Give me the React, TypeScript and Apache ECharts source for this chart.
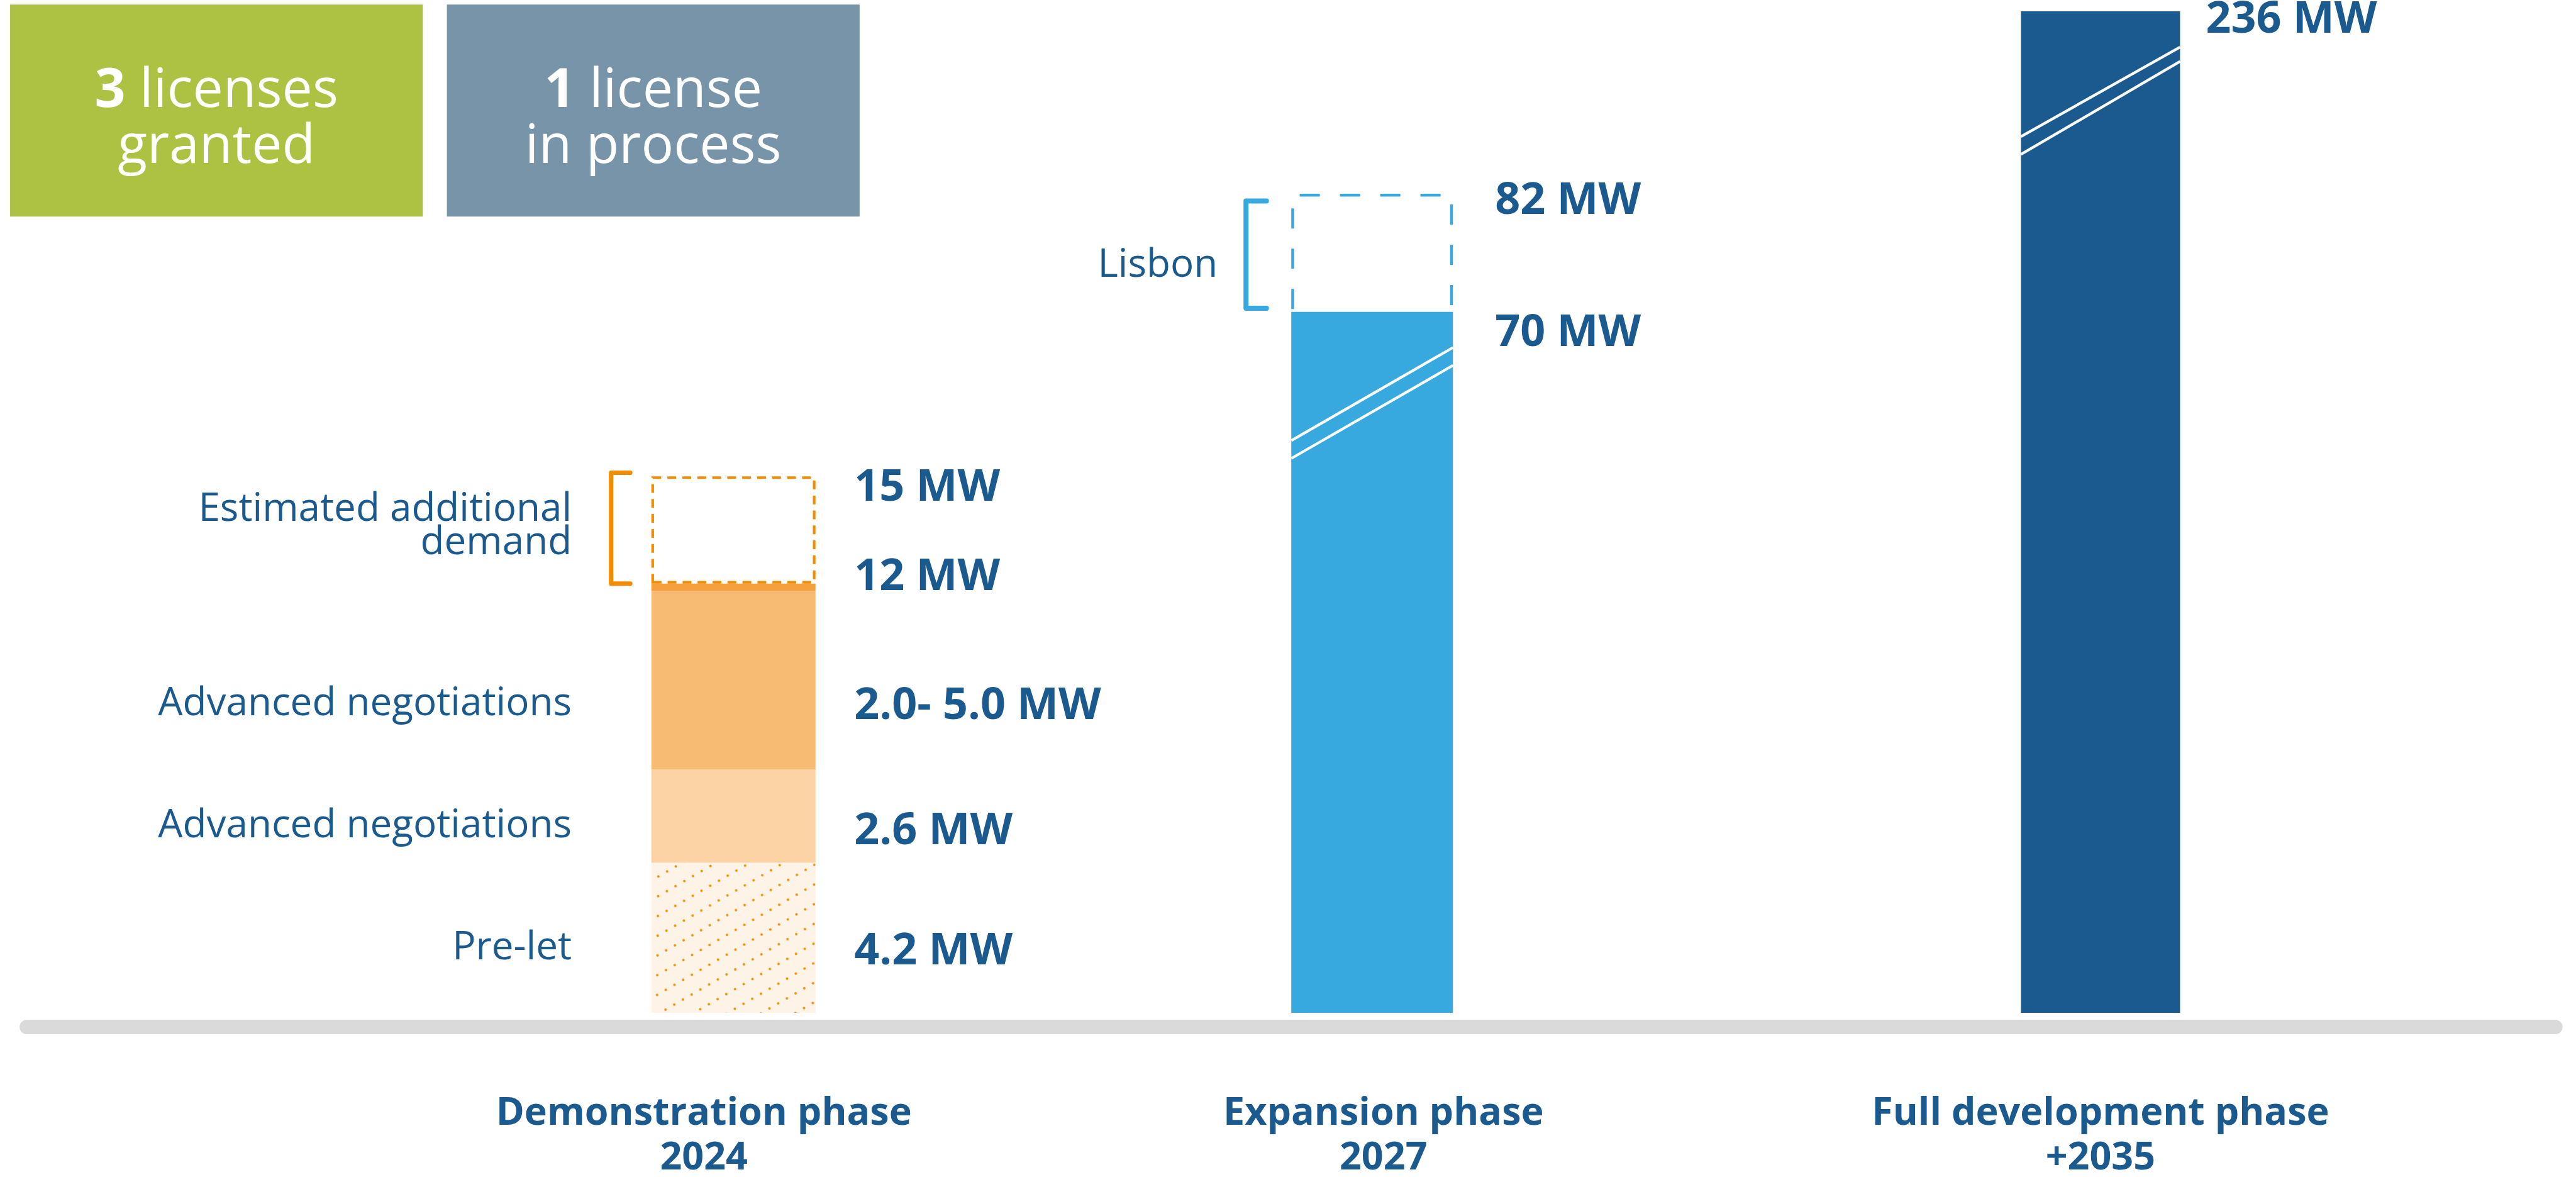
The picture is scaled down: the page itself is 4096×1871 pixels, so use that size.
import React, { useEffect, useRef } from 'react';
import * as echarts from 'echarts';

// ---------- data ----------
const phaseLabels = ['Demonstration phase\n2024', 'Expansion phase\n2027', 'Full development phase\n+2035'];

// Demonstration phase 2024 (stacked, MW)
const demoNames = ['Pre-let', 'Advanced negotiations', 'Advanced negotiations', '', 'Estimated additional\ndemand'];
const demoValues = [4.2, 2.6, 5.0, 0.2, 3.0];
const demoValueLabels = ['4.2 MW', '2.6 MW', '2.0- 5.0 MW', '12 MW', '15 MW'];

// Expansion phase 2027 (drawn heights on the broken axis)
const expansionNames = ['', 'Lisbon'];
const expansionValues = [19.6, 3.3];
const expansionValueLabels = ['70 MW', '82 MW'];

// Full development phase +2035 (drawn height on the broken axis)
const fullNames = [''];
const fullValues = [28.0];
const fullValueLabels = ['236 MW'];

// bracket spans [from, to] and axis-break marks [left value, right value]
const bracketSpans: (number[] | null)[] = [[12.0, 15.1], [19.7, 22.7], null];
const breakMarks: (number[][] | null)[] = [null, [[16.0, 18.6], [15.5, 18.1]], [[24.5, 27.0], [24.0, 26.6]]];

const boxNumbers = ['3', '1'];
const boxTexts = [' licenses\ngranted', ' license\nin process'];

// ---------- styles ----------
const W = 4096;
const H = 1871;
const S = 4096 / 4594;
const FONT = '"Open Sans", "Noto Sans", sans-serif';
const TEXT = '#1B5A8E';
const Y_MAX = 28.3;
const CLEAR = 'rgba(0,0,0,0)';

const phaseStyles = [
  {
    center: 1308 * S, barWidth: 261, valueDx: 61.5, nameDx: 126.6, catPad: [0, 94, 0, 0],
    fills: ['#FEF3E7', '#FBD3A5', '#F8BB74', '#F5A03C', CLEAR],
    kinds: ['dots', 'solid', 'solid', 'solid', 'dashed'],
    valuePos: ['mid', 'mid', 'mid', 'top', 'top'],
    valueDy: [15, 18, 35, -16.5, 12],
    nameDy: [10.5, 10, 31.5, 0, -12],
    accent: '#F28C00', bracket: { v: 64, t: 33.5, w: 7 }, dash: [14, 9.8], dashW: 4.2,
  },
  {
    center: 2447 * S, barWidth: 257, valueDx: 67, nameDx: 117, catPad: [0, 0, 0, 36],
    fills: ['#38A9DF', CLEAR],
    kinds: ['solid', 'open'],
    valuePos: ['top', 'top'],
    valueDy: [27, 5],
    nameDy: [0, 14],
    accent: '#38A9DF', bracket: { v: 72, t: 39.5, w: 8 }, dash: [32, 32], dashW: 4.5,
  },
  {
    center: 3746 * S, barWidth: 253, valueDx: 41, nameDx: 100, catPad: [0, 0, 0, 0],
    fills: ['#1A5A8E'],
    kinds: ['solid'],
    valuePos: ['top'],
    valueDy: [7],
    nameDy: [0],
    accent: '#1A5A8E', bracket: { v: 64, t: 33.5, w: 7 }, dash: [12, 8], dashW: 4,
  },
];

const phaseData = [
  { names: demoNames, values: demoValues, labels: demoValueLabels },
  { names: expansionNames, values: expansionValues, labels: expansionValueLabels },
  { names: fullNames, values: fullValues, labels: fullValueLabels },
];

function buildSeries() {
  const series: any[] = [];
  phaseData.forEach((pd, gi) => {
    const st = phaseStyles[gi];
    let base = 0;
    pd.values.forEach((v, i) => {
      const kind = st.kinds[i];
      let itemStyle: any;
      if (kind === 'dashed') {
        itemStyle = { color: CLEAR, borderColor: st.accent, borderWidth: st.dashW, borderType: st.dash };
      } else if (kind === 'dots') {
        itemStyle = {
          color: st.fills[i],
          decal: {
            symbol: 'circle', symbolSize: 1, color: '#F39200',
            dashArrayX: [3.6, 11.1], dashArrayY: [3.6, 22.4], rotation: -Math.PI / 6,
          },
        };
      } else {
        itemStyle = { color: st.fills[i] };
      }
      series.push({
        type: 'bar', xAxisIndex: gi, yAxisIndex: gi, stack: 'm' + gi,
        barWidth: st.barWidth, barGap: '-100%', z: 3, silent: true,
        emphasis: { disabled: true },
        data: [v], itemStyle,
        label: {
          show: true, formatter: pd.labels[i],
          position: ['100%', st.valuePos[i] === 'top' ? '0%' : '50%'],
          align: 'left', verticalAlign: 'middle', offset: [st.valueDx, st.valueDy[i]],
          fontFamily: FONT, fontWeight: 'bold', fontSize: 70, color: TEXT,
        },
      });
      if (kind === 'open') {
        // dashed box open at the bottom, drawn over the stacked segment
        const lw = st.dashW;
        const bw = st.barWidth;
        series.push({
          type: 'custom', xAxisIndex: gi, yAxisIndex: gi, z: 4, silent: true,
          data: [[0, base, base + v]],
          renderItem: (_p: any, api: any) => {
            const top = api.coord([api.value(0), api.value(2)]);
            const bot = api.coord([api.value(0), api.value(1)]);
            const l = top[0] - bw / 2 + lw / 2;
            const r = top[0] + bw / 2 - lw / 2;
            const yt = top[1] + lw / 2;
            const yb = bot[1] - lw;
            return {
              type: 'polyline',
              shape: { points: [[l, yb], [l, yt], [r, yt], [r, yb]] },
              style: { stroke: st.accent, lineWidth: lw, fill: null, lineDash: st.dash, lineCap: 'butt' },
            };
          },
        });
      }
      base += v;
    });
    // left-hand descriptive labels (transparent twin stack)
    pd.values.forEach((v, i) => {
      series.push({
        type: 'bar', xAxisIndex: gi, yAxisIndex: gi, stack: 'n' + gi,
        barWidth: st.barWidth, barGap: '-100%', z: 2, silent: true,
        emphasis: { disabled: true },
        data: [v], itemStyle: { color: CLEAR },
        label: {
          show: !!pd.names[i], formatter: pd.names[i] || '',
          position: ['0%', '50%'], align: 'right', verticalAlign: 'middle',
          offset: [-st.nameDx, st.nameDy[i]],
          fontFamily: FONT, fontWeight: 'normal', fontSize: 62, lineHeight: 53, color: TEXT,
        },
      });
    });
    const span = bracketSpans[gi];
    if (span) {
      series.push({
        type: 'custom', xAxisIndex: gi, yAxisIndex: gi, z: 6, silent: true,
        data: [[0, span[0], span[1]]],
        renderItem: (_p: any, api: any) => {
          const top = api.coord([api.value(0), api.value(2)]);
          const bot = api.coord([api.value(0), api.value(1)]);
          const left = top[0] - st.barWidth / 2;
          const b = st.bracket;
          return {
            type: 'polyline',
            shape: { points: [[left - b.t, top[1]], [left - b.v, top[1]], [left - b.v, bot[1]], [left - b.t, bot[1]]] },
            style: { stroke: st.accent, lineWidth: b.w, fill: null, lineCap: 'round', lineJoin: 'round' },
          };
        },
      });
    }
    const marks = breakMarks[gi];
    if (marks) {
      const half = st.barWidth / 2;
      series.push({
        type: 'custom', xAxisIndex: gi, yAxisIndex: gi, z: 6, silent: true,
        data: marks.map((m) => [0, m[0], m[1]]),
        renderItem: (_p: any, api: any) => {
          const a = api.coord([api.value(0), api.value(1)]);
          const b = api.coord([api.value(0), api.value(2)]);
          return {
            type: 'line',
            shape: { x1: a[0] - half, y1: a[1], x2: a[0] + half, y2: b[1] },
            style: { stroke: '#FFFFFF', lineWidth: 4.3 },
          };
        },
      });
    }
  });
  return series;
}

function buildGraphic() {
  const boxes = [
    { x: 18, fill: '#ADC242' },
    { x: 797, fill: '#7794A9' },
  ];
  const g: any[] = [];
  boxes.forEach((b, i) => {
    g.push({
      type: 'rect', z: 1,
      shape: { x: b.x * S, y: 8 * S, width: 736 * S, height: 378 * S },
      style: { fill: b.fill },
    });
    g.push({
      type: 'text', z: 2,
      x: (b.x + 368) * S, y: 181,
      style: {
        text: '{b|' + boxNumbers[i] + '}' + boxTexts[i],
        rich: { b: { fontWeight: 'bold', fontSize: 86, fontFamily: FONT, fill: '#FFFFFF', lineHeight: 89 } },
        fill: '#FFFFFF', fontSize: 86, fontFamily: FONT, fontWeight: 500, lineHeight: 89,
        align: 'center', verticalAlign: 'middle',
      },
    });
  });
  g.push({
    type: 'rect', z: 0,
    shape: { x: 35 * S, y: 1818 * S, width: 4535 * S, height: 26 * S, r: 13 * S },
    style: { fill: '#DADADA' },
  });
  return g;
}

export default function App() {
  const ref = useRef<HTMLDivElement>(null);
  useEffect(() => {
    if (!ref.current) return;
    const chart = echarts.init(ref.current, null, { renderer: 'svg', width: W, height: H });
    const grids = phaseStyles.map((st) => ({ left: st.center - 400, width: 800, top: 1, bottom: 250 }));
    const xAxis = phaseStyles.map((st, gi) => ({
      type: 'category', gridIndex: gi, data: [phaseLabels[gi]],
      axisLine: { show: false }, axisTick: { show: false }, splitLine: { show: false },
      axisLabel: {
        margin: 119, fontFamily: FONT, fontWeight: 'bold', fontSize: 61, lineHeight: 71,
        color: TEXT, align: 'center', padding: st.catPad,
      },
    }));
    const yAxis = phaseStyles.map((_st, gi) => ({
      type: 'value', gridIndex: gi, min: 0, max: Y_MAX, show: false, splitLine: { show: false },
    }));
    chart.setOption({
      animation: false,
      backgroundColor: '#FFFFFF',
      grid: grids,
      xAxis,
      yAxis,
      series: buildSeries(),
      graphic: buildGraphic(),
    });
    return () => chart.dispose();
  }, []);
  return <div ref={ref} style={{ position: 'absolute', left: 0, top: 0, width: W, height: H }} />;
}
